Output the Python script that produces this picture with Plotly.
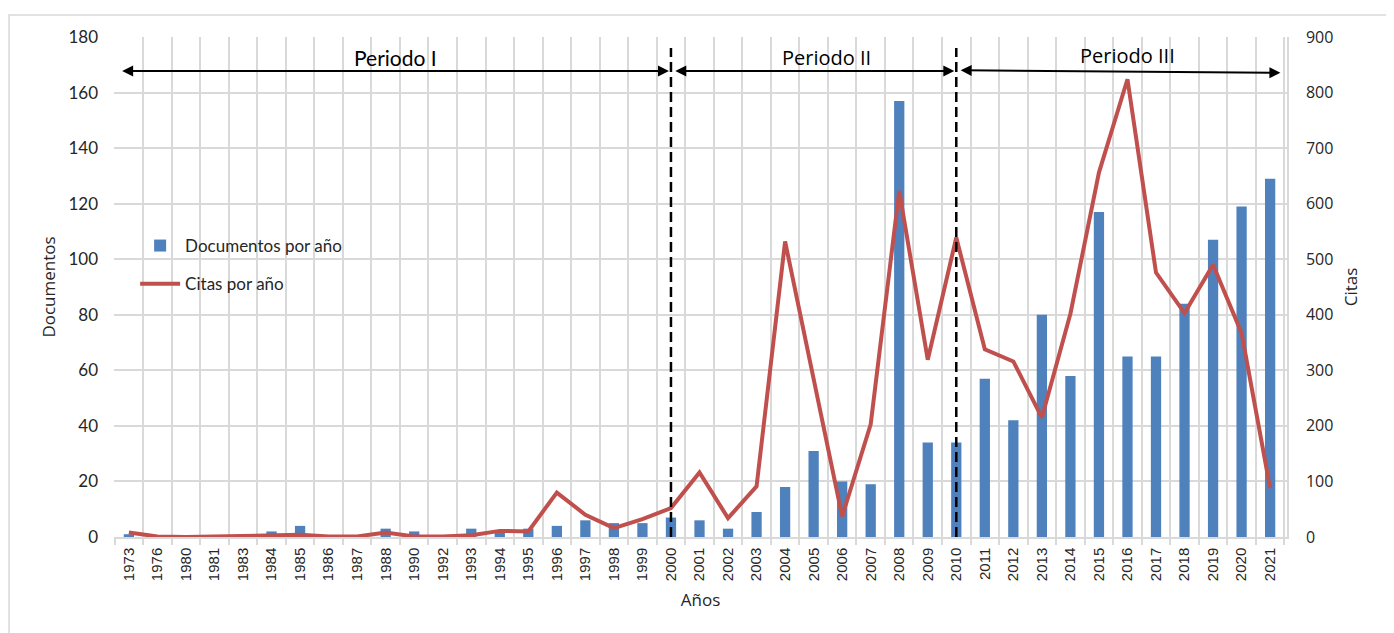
import plotly.graph_objects as go

years = ["1973", "1976", "1980", "1981", "1983", "1984", "1985", "1986", "1987", "1988",
         "1990", "1992", "1993", "1994", "1995", "1996", "1997", "1998", "1999", "2000",
         "2001", "2002", "2003", "2004", "2005", "2006", "2007", "2008", "2009", "2010",
         "2011", "2012", "2013", "2014", "2015", "2016", "2017", "2018", "2019", "2020", "2021"]
documentos = [1, 0, 0, 0, 0, 2, 4, 0, 0, 3,
              2, 0, 3, 2, 3, 4, 6, 5, 5, 7,
              6, 3, 9, 18, 31, 20, 19, 157, 34, 34,
              57, 42, 80, 58, 117, 65, 65, 84, 107, 119, 129]
citas = [8, 1, 0, 1, 2, 2, 4, 1, 1, 8,
         1, 1, 3, 11, 10, 80, 40, 16, 32, 52,
         116, 34, 91, 532, 285, 37, 203, 623, 319, 539,
         338, 316, 215, 402, 656, 824, 476, 403, 490, 367, 88]

left_ticks = [0, 20, 40, 60, 80, 100, 120, 140, 160, 180]
right_ticks = [0, 100, 200, 300, 400, 500, 600, 700, 800, 900]
periods = ["Periodo I", "Periodo II", "Periodo III"]

GRID = "#d9d9d9"
TXT = "#262626"

fig = go.Figure()
fig.add_trace(go.Bar(x=years, y=documentos, name="Documentos por año",
                     marker=dict(color="#4f81bd", line=dict(width=0)),
                     legendgroup="a"))
fig.add_trace(go.Scatter(x=years, y=citas, name="Citas por año", mode="lines",
                         line=dict(color="#c0504d", width=4),
                         yaxis="y2", legendgroup="b"))

# dashed separators at 2000 and 2010
for idx in (19, 29):
    fig.add_shape(type="line", xref="x", yref="y", x0=idx, x1=idx, y0=0, y1=176,
                  line=dict(color="black", width=2.5, dash="10px,5px"), layer="above")

# period arrows
arrows = [(-0.29, 167.8, 18.93, 167.8), (19.1, 167.8, 28.93, 167.8), (29.1, 168.0, 40.36, 167.1)]
for (x0, y0, x1, y1) in arrows:
    fig.add_annotation(x=x1, y=y1, ax=x0, ay=y0, xref="x", yref="y", axref="x", ayref="y",
                       text="", showarrow=True, arrowside="end+start",
                       arrowhead=2, startarrowhead=2, arrowsize=1.1, startarrowsize=1.1,
                       arrowwidth=2, arrowcolor="black")

label_pos = [(9.36, 172.8, "Lato", 21), (24.46, 172.8, "Open Sans", 20), (35.0, 173.3, "Open Sans", 20)]
for name, (lx, ly, fam, sz) in zip(periods, label_pos):
    fig.add_annotation(x=lx, y=ly, xref="x", yref="y", text=name, showarrow=False,
                       font=dict(family=fam, size=sz, color="black"))

# chart area border
fig.add_shape(type="rect", xref="paper", yref="paper", x0=-0.0895, x1=1.2, y0=-0.3, y1=1.044,
              line=dict(color=GRID, width=1.5), fillcolor="rgba(0,0,0,0)", layer="below")

fig.update_layout(
    width=1394, height=633,
    margin=dict(l=106, r=115, t=29, b=104),
    paper_bgcolor="white", plot_bgcolor="white",
    bargap=0.64,
    showlegend=True,
    legend=dict(x=0.018, y=0.618, xanchor="left", yanchor="top",
                font=dict(family="Lato", size=17, color=TXT),
                bgcolor="rgba(0,0,0,0)", traceorder="grouped", tracegroupgap=13,
                itemwidth=40),
    xaxis=dict(type="category", tickson="boundaries", showgrid=True, gridcolor=GRID, gridwidth=1.5,
               ticks="outside", ticklen=6, tickcolor=GRID, tickwidth=1.5,
               showline=True, linecolor=GRID, linewidth=1.5, mirror=False,
               tickangle=-90, tickfont=dict(family="Liberation Sans", size=15, color=TXT),
               ticklabelstandoff=3,
               title=dict(text="Años", font=dict(family="Open Sans", size=17, color=TXT), standoff=14)),
    yaxis=dict(range=[0, 180], tickvals=left_ticks, showgrid=True, gridcolor=GRID, gridwidth=1.5,
               zeroline=False, showline=False, ticks="",
               tickfont=dict(family="Lato", size=17, color=TXT), ticklabelstandoff=15,
               title=dict(text="Documentos", font=dict(family="Open Sans", size=17, color=TXT), standoff=8)),
    yaxis2=dict(range=[0, 900], tickvals=right_ticks, overlaying="y", side="right",
                showgrid=False, zeroline=False, showline=True, linecolor=GRID, linewidth=1.5, ticks="",
                tickfont=dict(family="Open Sans", size=16, color=TXT), ticklabelstandoff=14,
                title=dict(text="Citas", font=dict(family="Open Sans", size=17, color=TXT), standoff=13)),
)

fig.write_html("out.html")
